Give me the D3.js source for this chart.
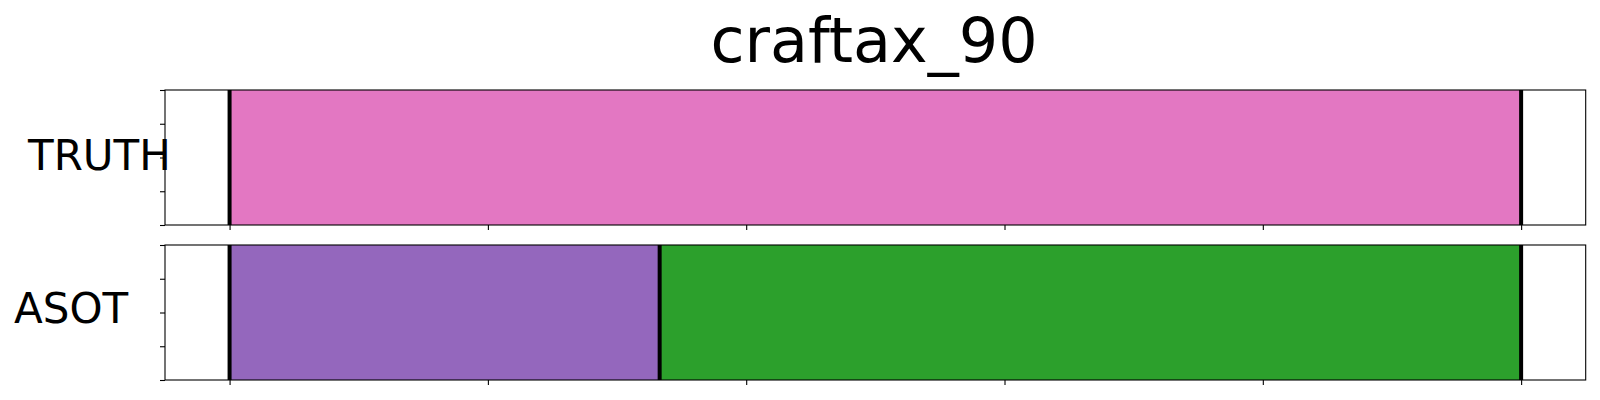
<!DOCTYPE html>
<html><head><meta charset="utf-8">
<script src="https://cdn.jsdelivr.net/npm/d3@7"></script>
<style>body{margin:0;background:#fff}svg{display:block}text{font-family:"DejaVu Sans",sans-serif}</style>
</head><body><div id="c"></div>
<script>
const title = "craftax_90";
const rows = ["TRUTH", "ASOT"];
const segRow = ["TRUTH", "ASOT", "ASOT"];
const segStart = [0, 0, 33.3];
const segEnd = [100, 33.3, 100];
const segAction = [6, 4, 2];
const xTicks = [0, 20, 40, 60, 80, 100];
const yTicks = [0, 0.25, 0.5, 0.75, 1];

const W = 1600, H = 400;
const svg = d3.select("#c").append("svg").attr("width", W).attr("height", H);
const x = d3.scaleLinear().domain([-5, 105]).range([165, 1585.7]);
const panelTop = {TRUTH: 90, ASOT: 245};
const panelH = 135;
const color = d3.scaleOrdinal().domain(d3.range(10)).range(d3.schemeCategory10);

svg.append("text").attr("x", 874).attr("y", 62).attr("text-anchor", "middle")
  .attr("font-size", 62).text(title);

const labelPos = {TRUTH: [28, 170], ASOT: [14, 323]};

rows.forEach(r => {
  const top = panelTop[r];
  const y = d3.scaleLinear().domain([0, 1]).range([top + panelH, top]);
  const g = svg.append("g");
  const idx = d3.range(segRow.length).filter(i => segRow[i] === r);
  g.selectAll("rect.seg").data(idx).join("rect").attr("class", "seg")
    .attr("x", i => x(segStart[i])).attr("width", i => x(segEnd[i]) - x(segStart[i]))
    .attr("y", y(1)).attr("height", y(0) - y(1))
    .attr("fill", i => color(segAction[i]));
  const bounds = Array.from(new Set(idx.flatMap(i => [segStart[i], segEnd[i]])));
  g.selectAll("line.b").data(bounds).join("line").attr("class", "b")
    .attr("x1", d => x(d)).attr("x2", d => x(d)).attr("y1", y(1)).attr("y2", y(0))
    .attr("stroke", "#000").attr("stroke-width", 4);
  const xa = d3.axisBottom(x).tickValues(xTicks).tickFormat("").tickSizeOuter(0).tickSize(5);
  const xg = g.append("g").attr("transform", `translate(0,${y(0)})`).call(xa);
  xg.select(".domain").remove();
  const ya = d3.axisLeft(y).tickValues(yTicks).tickFormat("").tickSizeOuter(0).tickSize(5);
  const yg = g.append("g").attr("transform", `translate(${x.range()[0]},0)`).call(ya);
  yg.select(".domain").remove();
  g.selectAll(".tick line").attr("stroke", "#000").attr("stroke-width", 1.1);
  g.append("rect").attr("x", x.range()[0]).attr("y", y(1))
    .attr("width", x.range()[1] - x.range()[0]).attr("height", y(0) - y(1))
    .attr("fill", "none").attr("stroke", "#000").attr("stroke-width", 1.1);
  svg.append("text").attr("x", labelPos[r][0]).attr("y", labelPos[r][1])
    .attr("font-size", 42).text(r);
});
</script></body></html>
